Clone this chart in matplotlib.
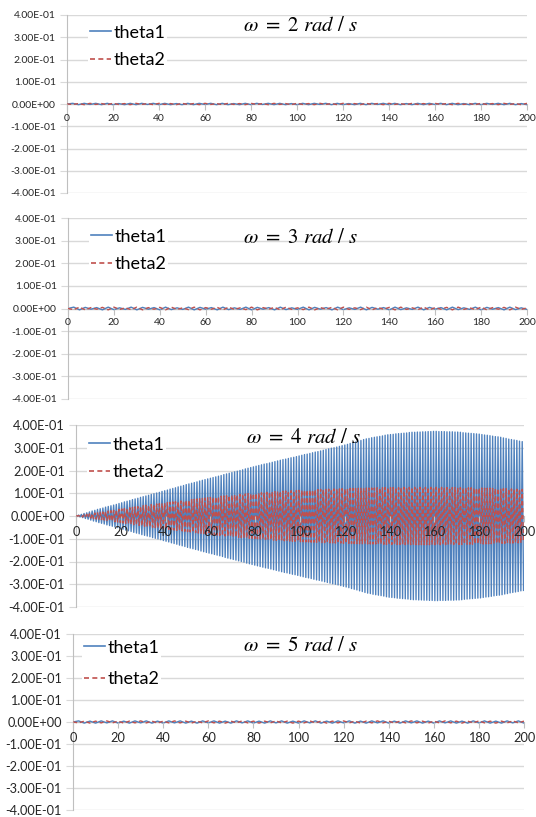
"""Double pendulum response under harmonic forcing, omega = 2, 3, 4, 5 rad/s.

Four stacked panels, theta1 / theta2 over 0..200 s.  Only omega = 4 resonates.
"""
import numpy as np
import matplotlib
matplotlib.use("Agg")
import matplotlib.pyplot as plt

W, H = 536, 817
C_T1, C_T2 = "#4F81BD", "#C0504D"
C_GRID, C_AXIS, C_TXT = "#D9D9D9", "#BFBFBF", "#262626"
plt.rcParams.update({"font.family": ["Lato", "DejaVu Sans"], "mathtext.fontset": "stix"})

OMEGAS = [2, 3, 4, 5]
Y_TICKS = [-0.4, -0.3, -0.2, -0.1, 0.0, 0.1, 0.2, 0.3, 0.4]
X_TICKS = [0, 20, 40, 60, 80, 100, 120, 140, 160, 180, 200]

# off-resonance panels: one sample every 2.5 s, values in 1e-3 rad
SMALL_STEP = 2.5
w2_theta1 = [0, 3, -3, 3, -2, 3, -3, 3, -3, 2,
             -3, 3, -3, 3, -2, 3, -3, 3, -3, 2,
             -3, 3, -3, 3, -2, 3, -3, 3, -3, 2,
             -3, 3, -3, 3, -2, 3, -3, 3, -3, 2,
             -3, 3, -3, 3, -2, 3, -3, 3, -3, 2,
             -3, 3, -3, 3, -2, 3, -3, 3, -3, 2,
             -3, 3, -3, 3, -2, 3, -3, 3, -3, 2,
             -3, 3, -3, 3, -2, 3, -3, 3, -3, 2,
             -3]
w2_theta2 = [0, -2, 2, -3, 3, -2, 2, -3, 3, -2,
             2, -3, 3, -2, 2, -3, 3, -2, 2, -3,
             3, -2, 2, -3, 3, -2, 2, -3, 3, -2,
             2, -3, 3, -2, 2, -3, 3, -2, 2, -3,
             3, -2, 2, -3, 3, -2, 2, -3, 3, -2,
             2, -3, 3, -2, 2, -3, 3, -2, 2, -3,
             3, -2, 2, -3, 3, -2, 2, -3, 3, -2,
             2, -3, 3, -2, 2, -3, 3, -2, 2, -3,
             3]
w3_theta1 = [0, 6, -6, 5, -3, 4, -6, 6, -5, 3,
             -4, 6, -6, 5, -3, 4, -6, 6, -5, 3,
             -4, 6, -6, 5, -3, 4, -6, 6, -5, 3,
             -4, 6, -6, 5, -3, 4, -6, 6, -5, 3,
             -4, 6, -6, 5, -3, 4, -6, 6, -5, 3,
             -4, 6, -6, 5, -3, 4, -6, 6, -5, 3,
             -4, 6, -6, 5, -3, 4, -6, 6, -5, 3,
             -4, 6, -6, 5, -3, 4, -6, 6, -5, 3,
             -4]
w3_theta2 = [0, -5, 6, -6, 4, -3, 5, -6, 6, -4,
             3, -5, 6, -6, 4, -3, 5, -6, 6, -4,
             3, -5, 6, -6, 4, -3, 5, -6, 6, -4,
             3, -5, 6, -6, 4, -3, 5, -6, 6, -4,
             3, -5, 6, -6, 4, -3, 5, -6, 6, -4,
             3, -5, 6, -6, 4, -3, 5, -6, 6, -4,
             3, -5, 6, -6, 4, -3, 5, -6, 6, -4,
             3, -5, 6, -6, 4, -3, 5, -6, 6, -4,
             3]
w5_theta1 = [0, 5, -5, 4, -5, 5, -4, 5, -5, 4,
             -5, 5, -4, 5, -5, 4, -5, 5, -4, 5,
             -5, 4, -5, 5, -4, 5, -5, 4, -5, 5,
             -4, 5, -5, 4, -5, 5, -4, 5, -5, 4,
             -5, 5, -4, 5, -5, 4, -5, 5, -4, 5,
             -5, 4, -5, 5, -4, 5, -5, 4, -5, 5,
             -4, 5, -5, 4, -5, 5, -4, 5, -5, 4,
             -5, 5, -4, 5, -5, 4, -5, 5, -4, 5,
             -5]
w5_theta2 = [0, -4, 4, -5, 4, -4, 5, -4, 4, -5,
             4, -4, 5, -4, 4, -5, 4, -4, 5, -4,
             4, -5, 4, -4, 5, -4, 4, -5, 4, -4,
             5, -4, 4, -5, 4, -4, 5, -4, 4, -5,
             4, -4, 5, -4, 4, -5, 4, -4, 5, -4,
             4, -5, 4, -4, 5, -4, 4, -5, 4, -4,
             5, -4, 4, -5, 4, -4, 5, -4, 4, -5,
             4, -4, 5, -4, 4, -5, 4, -4, 5, -4,
             4]

# omega = 4 (resonance): one full swing every 1.2 s, peak of each swing in 1e-3 rad
SWING_STEP = 1.2
w4_theta1_amp = [0, 4, 7, 11, 14, 18, 22, 25, 29,
                 32, 35, 39, 42, 45, 48, 51, 55,
                 58, 62, 65, 68, 72, 75, 78, 82,
                 85, 88, 91, 95, 98, 101, 104, 108, 111,
                 114, 118, 121, 124, 128, 131, 134, 138,
                 141, 144, 147, 150, 154, 157, 160, 163,
                 166, 169, 172, 175, 178, 182, 185, 188, 191,
                 194, 197, 200, 203, 207, 210, 213, 216,
                 219, 222, 225, 228, 230, 233, 236, 239,
                 242, 245, 248, 250, 253, 256, 258, 261, 264,
                 267, 270, 272, 275, 278, 281, 283, 286,
                 289, 292, 295, 298, 300, 303, 306, 309,
                 312, 315, 319, 322, 325, 329, 332, 336, 339,
                 341, 344, 346, 348, 350, 352, 355, 357,
                 358, 359, 361, 362, 363, 364, 365, 367,
                 368, 368, 369, 369, 370, 370, 371, 371, 372,
                 372, 371, 371, 371, 370, 370, 370, 369,
                 369, 368, 366, 365, 364, 363, 362, 361,
                 360, 358, 356, 355, 353, 351, 349, 348, 346,
                 343, 341, 338, 336, 334, 332, 329, 327]
w4_theta2_amp = [0, 2, 4, 5, 7, 9, 11, 13, 14,
                 16, 18, 20, 22, 23, 25, 27, 29,
                 31, 32, 34, 36, 38, 40, 41, 43,
                 45, 47, 48, 50, 51, 53, 54, 56, 57,
                 59, 60, 62, 63, 64, 66, 67, 69,
                 70, 72, 73, 75, 76, 77, 79, 80,
                 82, 83, 84, 85, 87, 88, 89, 90, 91,
                 93, 94, 95, 96, 97, 98, 98, 99,
                 100, 101, 102, 103, 104, 105, 106, 107,
                 108, 109, 109, 110, 110, 111, 111, 112, 113,
                 113, 114, 114, 115, 115, 116, 116, 117,
                 117, 117, 118, 118, 119, 119, 119, 120,
                 120, 120, 121, 121, 121, 122, 122, 122, 123,
                 123, 123, 123, 124, 124, 124, 125, 125,
                 125, 125, 125, 125, 126, 126, 126, 126,
                 126, 126, 126, 126, 126, 126, 126, 126, 126,
                 126, 126, 126, 126, 125, 125, 125, 125,
                 125, 125, 124, 124, 124, 124, 123, 123,
                 123, 123, 122, 122, 122, 121, 121, 121, 120,
                 120, 120, 119, 119, 118, 118, 118, 117]

# panel geometry in pixels: (left, top, bottom, right)
PANELS_PX = [(67, 15, 193, 527), (68, 218, 399, 527), (76, 425, 607, 524), (73, 634, 810, 524)]
TICK_FS = [7.5, 7.5, 9.2, 9.2]
LEGEND_PX = [(88, 23), (89, 227), (87, 435), (82, 638)]
LEGEND_SPACING = [0.62, 0.62, 0.62, 0.85]
TITLE_PX = [(300, 25), (300, 237), (303, 437), (300, 645)]


def small_series(vals):
    y = np.asarray(vals, float) / 1000.0
    return np.arange(len(y)) * SMALL_STEP, y


def swing_series(amps):
    a = np.repeat(np.asarray(amps, float) / 1000.0, 2)
    sign = np.tile([1.0, -1.0], len(amps))
    return np.arange(len(a)) * SWING_STEP / 2, a * sign


series = [
    (small_series(w2_theta1), small_series(w2_theta2)),
    (small_series(w3_theta1), small_series(w3_theta2)),
    (swing_series(w4_theta1_amp), swing_series(w4_theta2_amp)),
    (small_series(w5_theta1), small_series(w5_theta2)),
]

fig = plt.figure(figsize=(W / 100, H / 100), dpi=100)

for i, (omega, (s1, s2)) in enumerate(zip(OMEGAS, series)):
    left, top, bottom, right = PANELS_PX[i]
    ax = fig.add_axes([left / W, 1 - bottom / H, (right - left) / W, (bottom - top) / H])
    fs = TICK_FS[i]

    l1, = ax.plot(*s1, color=C_T1, lw=1.0, zorder=2, label="theta1")
    l2, = ax.plot(*s2, color=C_T2, lw=1.0, ls=(0, (3, 2)), zorder=3, label="theta2")

    ax.set_xlim(0, 200)
    ax.set_ylim(-0.4, 0.4)
    ax.set_yticks(Y_TICKS)
    ax.set_yticklabels([f"{v:.2E}" for v in Y_TICKS])
    ax.set_xticks(X_TICKS)
    ax.set_xticklabels([str(v) for v in X_TICKS])

    ax.set_axisbelow(True)
    ax.yaxis.grid(True, color=C_GRID, lw=1)
    ax.xaxis.grid(False)
    ax.xaxis.set_zorder(4)
    for side in ("top", "right"):
        ax.spines[side].set_visible(False)
    ax.spines["left"].set_color(C_AXIS)
    ax.spines["bottom"].set_position(("data", 0))
    ax.spines["bottom"].set_color(C_AXIS)
    ax.spines["bottom"].set_zorder(1.5)
    ax.tick_params(axis="y", length=5, color=C_GRID, labelsize=fs, labelcolor=C_TXT, pad=3)
    ax.tick_params(axis="x", length=4, color=C_AXIS, labelsize=fs, labelcolor=C_TXT, pad=3)

    lx, ly = LEGEND_PX[i]
    leg = ax.legend(handles=[l1, l2], loc="upper left", bbox_to_anchor=(lx / W, 1 - ly / H),
                    bbox_transform=fig.transFigure, fontsize=13, frameon=True,
                    facecolor="white", edgecolor="none", framealpha=1, fancybox=False,
                    handlelength=1.2, handletextpad=0.1, borderpad=0.1,
                    labelspacing=LEGEND_SPACING[i], borderaxespad=0)
    leg.set_zorder(5)
    for h in leg.legend_handles:
        h.set_linewidth(1.2)

    tx, ty = TITLE_PX[i]
    fig.text(tx / W, 1 - ty / H, rf"$\omega\ =\ {omega}\ rad\ /\ s$", ha="center", va="center",
             fontsize=15, color="black", zorder=6)

fig.savefig("out.png", dpi=100)
